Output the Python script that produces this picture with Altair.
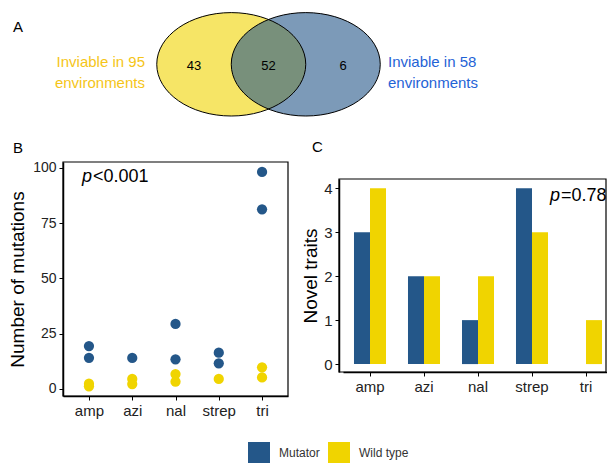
import altair as alt
import pandas as pd

FONT = "Liberation Sans"
W, H = 599, 455

# ---------------- data ----------------
antibiotics = ["amp", "azi", "nal", "strep", "tri"]
groups = ["Mutator", "Wild type"]
group_colors = ["#245789", "#f0d400"]

# panel B: number of mutations per replicate population
mut_antibiotic = ["amp", "amp", "azi", "nal", "nal", "strep", "strep", "tri", "tri"]
mut_values = [19.4, 14.1, 14.0, 29.4, 13.4, 16.4, 11.6, 98.2, 81.3]
wt_antibiotic = ["amp", "amp", "azi", "azi", "nal", "nal", "strep", "tri", "tri"]
wt_values = [2.4, 1.2, 4.5, 2.2, 6.7, 3.3, 4.5, 9.8, 5.2]

# panel C: novel traits
traits_mutator = [3, 2, 1, 4, 0]
traits_wildtype = [4, 2, 2, 3, 1]

# panel A: venn
venn_counts = [43, 52, 6]
venn_set_lines = [["Inviable in 95", "environments"], ["Inviable in 58", "environments"]]
venn_set_colors = ["#f0d400", "#245789"]
venn_text_colors = ["#f5c518", "#1f63d6"]

p_B = ["p", "<0.001"]
p_C = ["p", "=0.78"]

# ---------------- layout (pixels inside the chart) ----------------
L = dict(
    venn_x=[186, 335], venn_y=[112.6, 0],
    bx=[55, 280], by=[388, 154],
    cx=[331, 598], cx_band=[335, 605], cy=[364, 171],
)

# ---------------- panel A: venn ----------------
ell = "M-1,0C-1,-0.383,-0.552,-0.694,0,-0.694C0.552,-0.694,1,-0.383,1,0C1,0.383,0.552,0.694,0,0.694C-0.552,0.694,-1,0.383,-1,0Z"
ell_size = 149 ** 2

vxs = alt.Scale(domain=[0, 2], range=L["venn_x"], nice=False, zero=False)
vys = alt.Scale(domain=[0, 1], range=L["venn_y"], nice=False, zero=False)
VX = alt.X("vx:Q", scale=vxs, axis=None)
VY = alt.Y("vy:Q", scale=vys, axis=None)

ell_df = pd.DataFrame({"vx": [0.5, 1.5], "vy": [0.5, 0.5], "set": [0, 1]})
venn_layers = []
for i in range(2):
    venn_layers.append(
        alt.Chart(ell_df[ell_df["set"] == i]).mark_point(
            shape=ell, size=ell_size, filled=True, color=venn_set_colors[i],
            opacity=1, fillOpacity=0.6, strokeWidth=0
        ).encode(x=VX, y=VY)
    )
venn_layers.append(
    alt.Chart(ell_df).mark_point(
        shape=ell, size=ell_size, filled=False, color="black", opacity=1,
        strokeWidth=1, fillOpacity=0
    ).encode(x=VX, y=VY)
)
cnt_df = pd.DataFrame({"vx": [0, 1, 2], "vy": [0.488] * 3, "n": [str(v) for v in venn_counts]})
venn_layers.append(
    alt.Chart(cnt_df).mark_text(fontSize=13, color="black", baseline="middle").encode(
        x=VX, y=VY, text="n:N")
)
lab_pos = [(-0.658, "right"), (2.604, "left")]
for i in range(2):
    df = pd.DataFrame({"vx": [lab_pos[i][0]] * 2, "vy": [0.518, 0.331], "t": venn_set_lines[i]})
    venn_layers.append(
        alt.Chart(df).mark_text(fontSize=15, color=venn_text_colors[i], align=lab_pos[i][1],
                                baseline="middle").encode(x=VX, y=VY, text="t:N")
    )
venn = alt.layer(*venn_layers)

# ---------------- panel letters ----------------
letters = []
for t, x, y in [("A", 5, 19), ("B", 5, 140), ("C", 304, 139)]:
    letters.append(
        alt.Chart(pd.DataFrame({"t": [t]})).mark_text(
            fontSize=15, color="black", align="left", baseline="middle"
        ).encode(x=alt.value(x), y=alt.value(y), text="t:N")
    )

color_scale = alt.Scale(domain=groups, range=group_colors)

axis_common = dict(
    grid=False, domainColor="black", domainWidth=1.5, tickColor="black",
    tickSize=4, tickWidth=1, labelColor="#222222", labelFont=FONT,
    labelFlush=False, labelOverlap=False, titleFont=FONT, titleColor="black",
    titleFontWeight="normal",
)

# ---------------- panel B ----------------
pts = pd.DataFrame({
    "antibiotic": mut_antibiotic + wt_antibiotic,
    "mutations": mut_values + wt_values,
    "group": ["Mutator"] * len(mut_values) + ["Wild type"] * len(wt_values),
})
BX = alt.X("antibiotic:N", sort=antibiotics,
           scale=alt.Scale(type="point", domain=antibiotics, range=L["bx"], padding=0.6),
           axis=alt.Axis(orient="bottom", offset=-(H - L["by"][0]), title=None, labelAngle=0,
                         labelFontSize=15, labelPadding=3, **axis_common))
BY = alt.Y("mutations:Q",
           scale=alt.Scale(domain=[-3.2, 102.7], range=L["by"], nice=False, zero=False),
           axis=alt.Axis(orient="left", offset=-L["bx"][0], values=[0, 25, 50, 75, 100],
                         labelFontSize=14, labelPadding=3, title="Number of mutations",
                         titleFontSize=19, titleAngle=270, titleAlign="center",
                         titleBaseline="middle", titleX=9.5 - L["bx"][0],
                         titleY=(L["by"][0] + L["by"][1]) / 2, **axis_common))
b_points = alt.Chart(pts).mark_circle(size=105, opacity=1).encode(
    x=BX, y=BY, color=alt.Color("group:N", scale=color_scale, legend=None))
b_ann = pd.DataFrame({"antibiotic": ["amp"], "mutations": [96.0], "a": [p_B[0]], "b": [p_B[1]]})
b_p1 = alt.Chart(b_ann).mark_text(fontSize=18, fontStyle="italic", align="left",
                                  baseline="middle", dx=-7, color="black").encode(x=BX, y=BY, text="a:N")
b_p2 = alt.Chart(b_ann).mark_text(fontSize=18, align="left", baseline="middle",
                                  dx=4, color="black").encode(x=BX, y=BY, text="b:N")
panelB = alt.layer(b_points, b_p1, b_p2)

# ---------------- panel C ----------------
bars = pd.DataFrame({
    "antibiotic": antibiotics * 2,
    "traits": traits_mutator + traits_wildtype,
    "group": ["Mutator"] * 5 + ["Wild type"] * 5,
})
CX = alt.X("antibiotic:N", sort=antibiotics,
           scale=alt.Scale(type="band", domain=antibiotics, range=L["cx_band"],
                           paddingInner=0.407, paddingOuter=0.2035),
           axis=alt.Axis(orient="bottom", offset=-(H - L["cy"][0]), title=None, labelAngle=0,
                         labelFontSize=15, labelPadding=3, **axis_common))
CY = alt.Y("traits:Q",
           scale=alt.Scale(domain=[-0.18, 4.21], range=L["cy"], nice=False, zero=False),
           axis=alt.Axis(orient="left", offset=-L["cx"][0], values=[0, 1, 2, 3, 4], format="d",
                         labelFontSize=15, labelPadding=3, title="Novel traits",
                         titleFontSize=19, titleAngle=270, titleAlign="center",
                         titleBaseline="middle", titleX=302 - L["cx"][0],
                         titleY=(L["cy"][0] + L["cy"][1]) / 2, **axis_common))
c_bars = alt.Chart(bars).mark_bar().encode(
    x=CX, y=CY,
    xOffset=alt.XOffset("group:N", sort=groups, scale=alt.Scale(domain=groups)),
    color=alt.Color("group:N", scale=color_scale,
                    legend=alt.Legend(orient="none", legendX=240, legendY=434,
                                      direction="horizontal", title=None,
                                      symbolType="square", symbolSize=484,
                                      symbolStrokeWidth=0, labelFontSize=12,
                                      labelColor="#333333", labelFont=FONT,
                                      labelOffset=9, columnPadding=8, padding=0)),
)
c_ann = pd.DataFrame({"antibiotic": ["strep"], "traits": [3.83], "a": [p_C[0]], "b": [p_C[1]]})
c_p1 = alt.Chart(c_ann).mark_text(fontSize=18, fontStyle="italic", align="left",
                                  baseline="middle", dx=18, color="black").encode(x=CX, y=CY, text="a:N")
c_p2 = alt.Chart(c_ann).mark_text(fontSize=18, align="left", baseline="middle",
                                  dx=29, color="black").encode(x=CX, y=CY, text="b:N")
panelC = alt.layer(c_bars, c_p1, c_p2)

# ---------------- panel frames ----------------
def frame(xr, yr):
    return alt.Chart(pd.DataFrame({"a": [0]})).mark_rect(
        fillOpacity=0, stroke="black", strokeWidth=1.2
    ).encode(
        x=alt.X(datum=0, type="quantitative", scale=alt.Scale(domain=[0, 1], range=xr, nice=False, zero=False), axis=None),
        x2=alt.X2(datum=1),
        y=alt.Y(datum=0, type="quantitative", scale=alt.Scale(domain=[0, 1], range=yr, nice=False, zero=False), axis=None),
        y2=alt.Y2(datum=1),
    )

frameB = frame(L["bx"], L["by"])
frameC = frame(L["cx"], L["cy"])

chart = alt.layer(
    venn, *letters, frameB, frameC, panelB, panelC
).resolve_scale(
    x="independent", y="independent", color="independent"
).resolve_axis(
    x="independent", y="independent"
).resolve_legend(
    color="independent"
).properties(
    width=W, height=H, padding=0, background="white",
    autosize=alt.AutoSizeParams(type="none"),
).configure_view(stroke=None).configure_text(font=FONT)

chart.save("out.html", embed_options={"renderer": "svg", "actions": False})
